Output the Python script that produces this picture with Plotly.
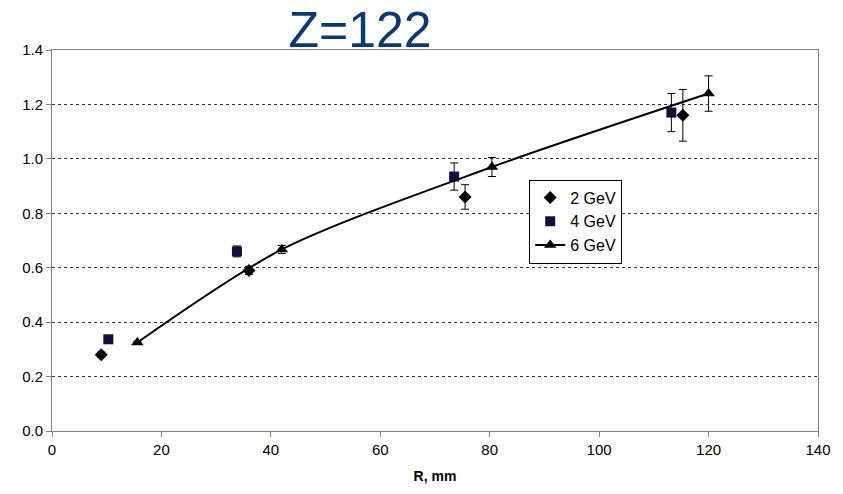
import plotly.graph_objects as go

# 2 GeV
r2 = [9.0, 36.0, 75.5, 115.3]
v2 = [0.28, 0.59, 0.86, 1.16]
e2 = [0.01, 0.015, 0.045, 0.095]
# 4 GeV
r4 = [10.3, 33.8, 73.5, 113.2]
v4 = [0.337, 0.66, 0.935, 1.17]
e4 = [0.005, 0.02, 0.05, 0.07]
# 6 GeV
r6 = [15.6, 42.0, 80.4, 120.0]
v6 = [0.325, 0.667, 0.97, 1.24]
e6 = [0.005, 0.015, 0.035, 0.065]

x_ticks = [0, 20, 40, 60, 80, 100, 120, 140]
y_ticks = [0.0, 0.2, 0.4, 0.6, 0.8, 1.0, 1.2, 1.4]

fig = go.Figure()
fig.add_trace(go.Scatter(
    x=r2, y=v2, mode="markers", name="2 GeV",
    marker=dict(symbol="diamond", size=10, color="black"),
    error_y=dict(type="data", array=e2, color="black", thickness=1, width=4),
))
fig.add_trace(go.Scatter(
    x=r4, y=v4, mode="markers", name="4 GeV",
    marker=dict(symbol="square", size=10, color="#10103c"),
    error_y=dict(type="data", array=e4, color="black", thickness=1, width=4),
))
fig.add_trace(go.Scatter(
    x=r6, y=v6, mode="lines+markers", name="6 GeV",
    line=dict(color="black", width=2, shape="spline", smoothing=0.8),
    marker=dict(symbol="triangle-up", size=11, color="black"),
    error_y=dict(type="data", array=e6, color="black", thickness=1, width=4),
))

fig.update_layout(
    width=843, height=494,
    margin=dict(l=52, r=21, t=50, b=62),
    paper_bgcolor="white", plot_bgcolor="white",
    font=dict(family="Liberation Sans, Arial, sans-serif", size=15, color="black"),
    title=dict(text="Z=122", x=(360 / 843), xanchor="center", y=0.94, yanchor="middle",
               font=dict(size=50, color="#0b3a6f", family="Liberation Sans, Arial, sans-serif")),
    showlegend=True,
    legend=dict(x=0.623, y=0.66, xanchor="left", yanchor="top",
                bordercolor="black", borderwidth=1, bgcolor="white",
                font=dict(size=16), tracegroupgap=0),
)
fig.update_xaxes(
    range=[0, 140], tickvals=x_ticks, ticktext=[str(t) for t in x_ticks],
    showgrid=False, zeroline=False,
    showline=True, linecolor="#808080", linewidth=1, mirror=True,
    ticks="outside", ticklen=5, tickcolor="#808080", tickfont=dict(size=15),
    title=dict(text="<b>R, mm</b>", font=dict(size=14), standoff=14),
)
fig.update_yaxes(
    range=[0, 1.4], tickvals=y_ticks, ticktext=[f"{t:.1f}" for t in y_ticks],
    showgrid=True, gridcolor="#333333", griddash="dot", gridwidth=1,
    zeroline=False,
    showline=True, linecolor="#808080", linewidth=1, mirror=True,
    ticks="outside", ticklen=5, tickcolor="#808080", tickfont=dict(size=15),
)

fig.write_html("out.html")
